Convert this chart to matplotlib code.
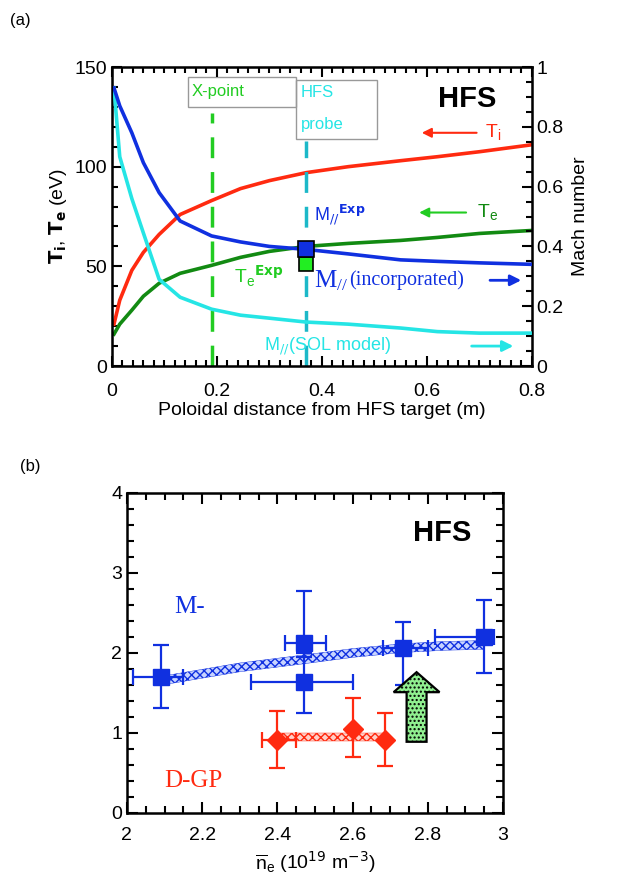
import matplotlib
matplotlib.use('Agg')
import matplotlib.pyplot as plt
from matplotlib.patches import Rectangle, FancyArrow
from matplotlib.ticker import MultipleLocator
import numpy as np

plt.rcParams['font.family'] = ['Liberation Sans', 'DejaVu Sans']
plt.rcParams['hatch.linewidth'] = 1.0

# ---- panel (a) data ----
x_pol = [0.004, 0.015, 0.038, 0.06, 0.09, 0.13, 0.19, 0.245, 0.30, 0.37, 0.45, 0.55, 0.62, 0.70, 0.80]
Ti = [21, 33, 48, 57, 66, 76, 83, 89, 93, 97, 100, 103, 105, 107.5, 111]
Te = [16, 21, 28, 35, 41.5, 46.5, 50.5, 54.5, 57.5, 60, 61.5, 63, 64.5, 66.5, 68]
M_inc = [0.93, 0.87, 0.78, 0.68, 0.58, 0.485, 0.435, 0.415, 0.40, 0.39, 0.375, 0.355, 0.35, 0.345, 0.34]
M_sol = [0.93, 0.70, 0.56, 0.445, 0.29, 0.23, 0.19, 0.17, 0.16, 0.147, 0.14, 0.127, 0.115, 0.11, 0.11]
x_xpoint = 0.19
x_probe = 0.37
M_exp = 0.39
Te_exp = 51

# ---- panel (b) data ----
ne_M = [2.09, 2.47, 2.47, 2.735, 2.95]
M_val = [1.70, 2.13, 1.64, 2.06, 2.20]
M_ylo = [1.31, 1.95, 1.25, 1.60, 1.75]
M_yhi = [2.10, 2.78, 2.00, 2.39, 2.66]
M_xlo = [2.015, 2.42, 2.33, 2.68, 2.82]
M_xhi = [2.15, 2.53, 2.60, 2.80, 2.975]

ne_D = [2.40, 2.60, 2.685]
D_val = [0.91, 1.05, 0.91]
D_ylo = [0.56, 0.70, 0.59]
D_yhi = [1.27, 1.44, 1.25]
D_xlo = [2.36, 2.60, 2.685]
D_xhi = [2.45, 2.60, 2.685]

band_M_x = [2.10, 2.20, 2.30, 2.47, 2.60, 2.73, 2.85, 2.95]
band_M_y = [1.66, 1.74, 1.82, 1.92, 2.00, 2.06, 2.09, 2.10]
band_D_x = [2.41, 2.68]
band_D_y = [0.95, 0.95]
band_half = 0.055

arrow_x = 2.77
arrow_lo = 0.89
arrow_hi = 1.76

red = '#ff2a10'
dgreen = '#128a12'
lgreen = '#22cc22'
cyan = '#25e5e5'
dcyan = '#1cb8c8'
blue = '#1030e0'

fig = plt.figure(figsize=(6.25, 8.83), dpi=100)

# ================= panel (a) =================
ax = fig.add_axes([0.179, 0.5855, 0.672, 0.3386])
ax2 = ax.twinx()

ax.plot(x_pol, Ti, color=red, lw=2.6)
ax.plot(x_pol, Te, color=dgreen, lw=2.6)
ax2.plot(x_pol, M_sol, color=cyan, lw=2.6)
ax2.plot(x_pol, M_inc, color=blue, lw=2.6)

ax.plot([x_xpoint, x_xpoint], [0, 127], color=lgreen, lw=2.5, dashes=(6, 4))
ax.plot([x_probe, x_probe], [0, 113], color=dcyan, lw=2.5, dashes=(6, 4))

ax2.plot([x_probe], [M_exp], 's', color=blue, ms=12, mec='black', mew=1.2, zorder=5)
ax.plot([x_probe], [Te_exp], 's', color='#22ee22', ms=10, mec='black', mew=1.2, zorder=5)

ax.add_patch(Rectangle((0.145, 130), 0.205, 15, fill=False, ec='#999999', lw=1))
ax.add_patch(Rectangle((0.35, 114), 0.155, 29.5, fill=False, ec='#999999', lw=1))
ax.text(0.152, 137.5, 'X-point', color=lgreen, fontsize=12, va='center')
ax.text(0.36, 137, 'HFS', color=cyan, fontsize=12, va='center')
ax.text(0.36, 121, 'probe', color=cyan, fontsize=12, va='center')

ax.text(0.676, 134, 'HFS', fontsize=21, fontweight='bold', ha='center', va='center')

ax.annotate('', xy=(0.585, 117), xytext=(0.70, 117),
            arrowprops=dict(arrowstyle='-|>', color=red, lw=1.5, mutation_scale=14))
ax.text(0.71, 117, r'T$_\mathregular{i}$', color=red, fontsize=14, va='center')
ax.annotate('', xy=(0.58, 77), xytext=(0.68, 77),
            arrowprops=dict(arrowstyle='-|>', color=lgreen, lw=1.5, mutation_scale=14))
ax.text(0.695, 77, r'T$_\mathregular{e}$', color=dgreen, fontsize=14, va='center')

ax.text(0.385, 76, r'M$_{//}$$^{\mathbf{Exp}}$', color=blue, fontsize=13, va='center')
ax.text(0.232, 45, r'T$_\mathregular{e}$$^{\mathbf{Exp}}$', color=lgreen, fontsize=14, va='center')
ax.text(0.385, 43, r'$\mathregular{M_{//}}$', color=blue, fontsize=18, va='center',
        family='Liberation Serif')
ax.text(0.452, 43, '(incorporated)', color=blue, fontsize=14.5, va='center', family='Liberation Serif')
ax.annotate('', xy=(0.785, 43), xytext=(0.715, 43),
            arrowprops=dict(arrowstyle='-|>', color=blue, lw=2, mutation_scale=16))
ax.text(0.29, 10, r'M$_{//}$(SOL model)', color=cyan, fontsize=13, va='center')
ax.annotate('', xy=(0.77, 10), xytext=(0.68, 10),
            arrowprops=dict(arrowstyle='-|>', color=cyan, lw=2, mutation_scale=16))

ax.set_xlim(0, 0.8)
ax.set_ylim(0, 150)
ax2.set_ylim(0, 1)
ax.xaxis.set_minor_locator(MultipleLocator(0.02))
ax.yaxis.set_minor_locator(MultipleLocator(10))
ax2.yaxis.set_minor_locator(MultipleLocator(0.05))
ax.set_xticks([0, 0.2, 0.4, 0.6, 0.8])
ax.set_xticklabels(['0', '0.2', '0.4', '0.6', '0.8'])
ax.set_yticks([0, 50, 100, 150])
ax2.set_yticks([0, 0.2, 0.4, 0.6, 0.8, 1])
ax2.set_yticklabels(['0', '0.2', '0.4', '0.6', '0.8', '1'])
ax.tick_params(which='both', direction='in', top=True, right=False, labelsize=14, width=1.5)
ax.tick_params(which='major', length=7)
ax.tick_params(which='minor', length=4)
ax.tick_params(axis='x', pad=12)
ax2.tick_params(which='both', direction='in', labelsize=14, width=1.5)
ax2.tick_params(which='major', length=7)
ax2.tick_params(which='minor', length=4)
for s in ax.spines.values():
    s.set_linewidth(1.8)
ax.set_xlabel('Poloidal distance from HFS target (m)', fontsize=14, labelpad=2)
ax.set_ylabel(r'$\mathbf{T_i}$, $\mathbf{T_e}$ (eV)', fontsize=14, labelpad=4)
ax2.set_ylabel('Mach number', fontsize=14, labelpad=6)
fig.text(0.016, 0.977, '(a)', fontsize=12, va='center')

# ================= panel (b) =================
bx = fig.add_axes([0.203, 0.0793, 0.602, 0.3624])

lo = np.array(band_M_y) - band_half
hi = np.array(band_M_y) + band_half
bx.fill_between(band_M_x, lo, hi, facecolor='#c8d4ff', edgecolor=blue, hatch='xxxx', lw=0.3)
lo = np.array(band_D_y) - band_half
hi = np.array(band_D_y) + band_half
bx.fill_between(band_D_x, lo, hi, facecolor='#ffd0c8', edgecolor=red, hatch='xxxx', lw=0.3)

yerr = [np.array(M_val) - np.array(M_ylo), np.array(M_yhi) - np.array(M_val)]
xerr = [np.array(ne_M) - np.array(M_xlo), np.array(M_xhi) - np.array(ne_M)]
bx.errorbar(ne_M, M_val, yerr=yerr, xerr=xerr, fmt='s', color=blue, ms=11,
            ecolor=blue, elinewidth=1.6, capsize=6, capthick=1.6, zorder=4)
yerr = [np.array(D_val) - np.array(D_ylo), np.array(D_yhi) - np.array(D_val)]
xerr = [np.array(ne_D) - np.array(D_xlo), np.array(D_xhi) - np.array(ne_D)]
bx.errorbar(ne_D, D_val, yerr=yerr, xerr=xerr, fmt='D', color=red, ms=10,
            ecolor=red, elinewidth=1.6, capsize=6, capthick=1.6, zorder=4)

bx.add_patch(FancyArrow(arrow_x, arrow_lo, 0, arrow_hi - arrow_lo, width=0.053,
                        head_width=0.122, head_length=0.25, length_includes_head=True,
                        facecolor='#90f090', edgecolor='black', hatch='....', lw=1.6, zorder=5))

bx.text(2.838, 3.5, 'HFS', fontsize=21, fontweight='bold', ha='center', va='center')
bx.text(2.125, 2.58, 'M-', color=blue, fontsize=18, va='center', family='Liberation Serif')
bx.text(2.1, 0.4, 'D-GP', color=red, fontsize=18, va='center', family='Liberation Serif')

bx.set_xlim(2, 3)
bx.set_ylim(0, 4)
bx.set_xticks([2, 2.2, 2.4, 2.6, 2.8, 3])
bx.set_xticklabels(['2', '2.2', '2.4', '2.6', '2.8', '3'])
bx.set_yticks([0, 1, 2, 3, 4])
bx.set_yticklabels(['0', '1', '2', '3', '4'])
bx.xaxis.set_minor_locator(MultipleLocator(0.05))
bx.yaxis.set_minor_locator(MultipleLocator(0.2))
bx.tick_params(which='both', direction='in', top=True, right=True, labelsize=14, width=1.5)
bx.tick_params(which='major', length=8)
bx.tick_params(which='minor', length=5)
bx.tick_params(axis='x', pad=10)
for s in bx.spines.values():
    s.set_linewidth(1.8)
bx.set_xlabel(r'$\overline{\mathregular{n}}_\mathregular{e}$ (10$^{19}$ m$^{-3}$)', fontsize=14, labelpad=4)
fig.text(0.032, 0.472, '(b)', fontsize=12, va='center')

fig.savefig('out.png', dpi=100)
